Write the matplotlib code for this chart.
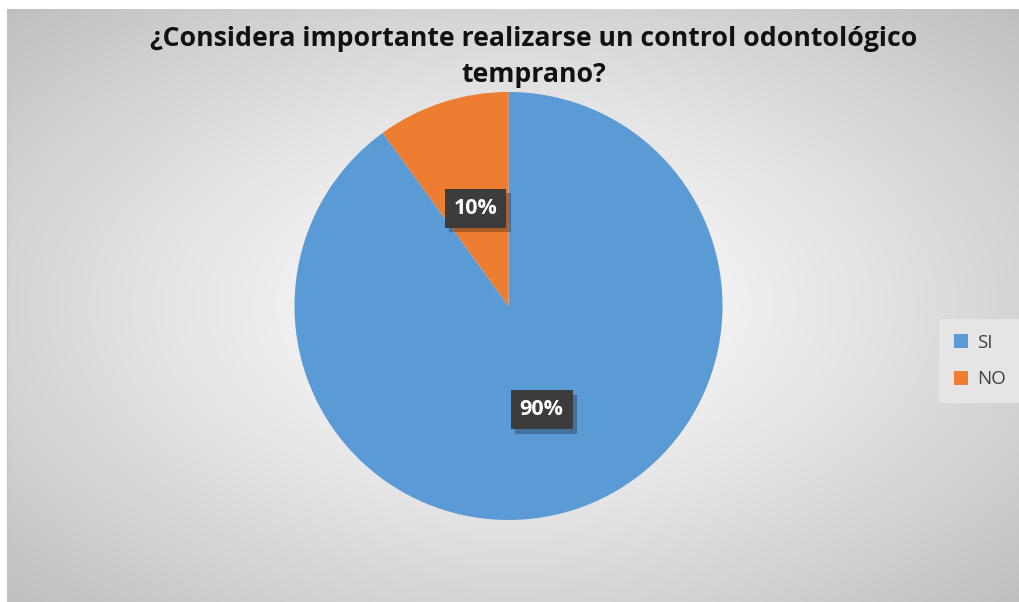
import numpy as np
import matplotlib
matplotlib.use("Agg")
import matplotlib.pyplot as plt
import matplotlib.patheffects as pe

# data
categories = ["SI", "NO"]
values = [90, 10]
colors = ["#5B9BD5", "#ED7D31"]
title_text = "¿Considera importante realizarse un control odontológico\ntemprano?"

W, H = 1019, 602
fig = plt.figure(figsize=(W / 100, H / 100), dpi=100)
fig.patch.set_facecolor("white")

# radial gradient background of the chart area
bg = fig.add_axes([7 / W, 0, 1 - 7 / W, (H - 9) / H], zorder=-5)
gx = np.linspace(-1, 1, 500)
gy = np.linspace(-1, 1, 300)
X, Y = np.meshgrid(gx, gy)
R = np.sqrt(X ** 2 + Y ** 2) / np.sqrt(2)
shade = 1.0 - 0.25 * np.clip(R, 0, 1) ** 1.2
img = np.dstack([shade, shade, shade])
bg.imshow(img, aspect="auto", extent=[0, 1, 0, 1], interpolation="bilinear")
bg.set_xticks([])
bg.set_yticks([])
for s in bg.spines.values():
    s.set_visible(False)
bg.spines["left"].set_visible(True)
bg.spines["left"].set_color("#c4c4c4")

# pie
cx, cy, r = 508.5, H - 306, 214
ax = fig.add_axes([(cx - r) / W, (cy - r) / H, 2 * r / W, 2 * r / H])
ax.patch.set_alpha(0)
wedges, texts, autotexts = ax.pie(values, colors=colors, startangle=90, counterclock=False,
                                  autopct="%1.0f%%", pctdistance=0.5, radius=1,
                                  wedgeprops=dict(linewidth=0))
ax.set_xlim(-1, 1)
ax.set_ylim(-1, 1)
ax.set_aspect("equal")
for t in autotexts:
    t.set_color("white")
    t.set_fontsize(15.5)
    t.set_fontweight("bold")
    t.set_family("Open Sans")
    t.set_bbox(dict(boxstyle="square,pad=0.42", facecolor="#3c3c3c", edgecolor="none",
                    linewidth=0))
    t.get_bbox_patch().set_path_effects([pe.SimplePatchShadow(offset=(3, -3), alpha=0.3),
                                         pe.Normal()])
autotexts[0].set_position((autotexts[0].get_position()[0], autotexts[0].get_position()[1] - 0.01))
autotexts[1].set_position((autotexts[1].get_position()[0], autotexts[1].get_position()[1] - 0.02))

fig.text(534 / W, 1 - 57 / H, title_text, ha="center", va="center", fontsize=19.2,
         fontweight="bold", family="Open Sans", color="#111111", linespacing=1.45)

leg = fig.legend(wedges, categories, loc="center", bbox_to_anchor=(980 / W, 1 - 361 / H),
                 frameon=True, handlelength=0.75, handleheight=0.75,
                 labelspacing=1.0, borderpad=0.8, handletextpad=0.45,
                 prop={"family": "Open Sans", "size": 13.5})
leg.get_frame().set_facecolor("#e5e5e5")
leg.get_frame().set_edgecolor("none")
leg.get_frame().set_boxstyle("square", pad=0)
leg.get_frame().set_alpha(1)
for t in leg.get_texts():
    t.set_color("#404040")

fig.savefig("out.png", dpi=100)
